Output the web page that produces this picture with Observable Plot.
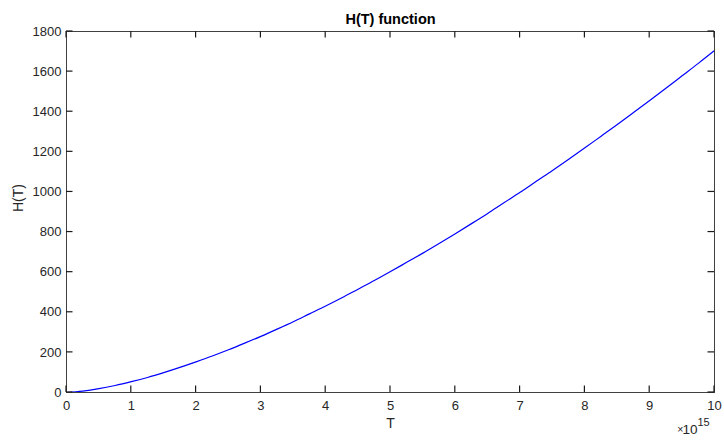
<!DOCTYPE html>
<html>
<head>
<meta charset="utf-8">
<script src="https://cdn.jsdelivr.net/npm/d3@7"></script>
<script src="https://cdn.jsdelivr.net/npm/@observablehq/plot@0.6"></script>
<style>
  html, body { margin: 0; padding: 0; background: #fff; }
  svg { display: block; }
</style>
</head>
<body>
<div id="chart"></div>
<script>
// Data (T axis shown ×10^15)
const tValues = [0, 0.25e15, 0.5e15, 0.75e15, 1e15, 1.25e15, 1.5e15, 1.75e15, 2e15, 2.25e15, 2.5e15,
                 2.75e15, 3e15, 3.25e15, 3.5e15, 3.75e15, 4e15, 4.25e15, 4.5e15, 4.75e15, 5e15,
                 5.25e15, 5.5e15, 5.75e15, 6e15, 6.25e15, 6.5e15, 6.75e15, 7e15, 7.25e15, 7.5e15,
                 7.75e15, 8e15, 8.25e15, 8.5e15, 8.75e15, 9e15, 9.25e15, 9.5e15, 9.75e15, 10e15];
const hValues = [0, 7, 19, 35, 54, 75, 99, 125, 153, 182, 213,
                 246, 280, 316, 353, 392, 431, 472, 515, 558, 603,
                 649, 695, 743, 792, 842, 893, 946, 998, 1053, 1107,
                 1163, 1220, 1278, 1336, 1396, 1456, 1517, 1579, 1641, 1705];
const xTicks = [0, 1e15, 2e15, 3e15, 4e15, 5e15, 6e15, 7e15, 8e15, 9e15, 10e15];
const yTicks = [0, 200, 400, 600, 800, 1000, 1200, 1400, 1600, 1800];
const titleText = "H(T) function";
const xLabel = "T";
const yLabel = "H(T)";

const data = tValues.map((t, i) => ({T: t, H: hValues[i]}));

const W = 724, H = 441;
const mL = 66, mR = 10, mT = 31, mB = 49;
const xDomain = [0, 10e15], yDomain = [0, 1800];
const tickPx = 6.5;
const axisColor = "#404040";
const tickColor = "#1a1a1a";
const font = "Liberation Sans, Arial, Helvetica, sans-serif";

const chart = Plot.plot({
  width: W,
  height: H,
  marginLeft: mL,
  marginRight: mR,
  marginTop: mT,
  marginBottom: mB,
  style: {fontFamily: font, fontSize: "13px", color: "#262626", background: "#fff"},
  x: {domain: xDomain},
  y: {domain: yDomain},
  marks: [
    Plot.lineY(data, {x: "T", y: "H", stroke: "#0000ff", strokeWidth: 1.2, curve: "monotone-x"}),
    Plot.frame({stroke: axisColor, strokeWidth: 1}),
    Plot.axisX({ticks: xTicks, tickSize: 0, tickPadding: 8, label: null, tickFormat: d => String(d / 1e15), fill: "#262626"}),
    Plot.axisY({ticks: yTicks, tickSize: 0, tickPadding: 5, label: null, tickFormat: d => String(d), fill: "#262626"}),
    Plot.text([titleText], {frameAnchor: "top", dy: -12, lineAnchor: "middle", fontWeight: "bold", fontSize: 14.5, fill: "#000"}),
    Plot.text([xLabel], {frameAnchor: "bottom", dy: 31, lineAnchor: "middle", fontSize: 14, fill: "#262626"}),
    Plot.text([yLabel], {frameAnchor: "left", dx: -48, rotate: -90, lineAnchor: "middle", fontSize: 14, fill: "#262626"}),
    Plot.text(["×"], {frameAnchor: "bottom-right", dx: -31, dy: 40, textAnchor: "end", lineAnchor: "bottom", fontSize: 10.5, fill: "#262626"}),
    Plot.text(["10"], {frameAnchor: "bottom-right", dx: -17, dy: 41, textAnchor: "end", lineAnchor: "bottom", fontSize: 13.5, fill: "#262626"}),
    Plot.text(["15"], {frameAnchor: "bottom-right", dx: -17, dy: 33, textAnchor: "start", lineAnchor: "bottom", fontSize: 11, fill: "#262626"})
  ]
});
document.getElementById("chart").appendChild(chart);

// Inward (MATLAB-style) ticks on all four sides, positioned via Plot's own scales
const sx = chart.scale("x"), sy = chart.scale("y");
const x0 = sx.apply(xDomain[0]), x1 = sx.apply(xDomain[1]);
const y0 = sy.apply(yDomain[0]), y1 = sy.apply(yDomain[1]);
const svgNS = "http://www.w3.org/2000/svg";
const g = document.createElementNS(svgNS, "g");
g.setAttribute("stroke", tickColor);
g.setAttribute("stroke-width", "1.2");
g.setAttribute("fill", "none");
function addLine(ax, ay, bx, by) {
  const l = document.createElementNS(svgNS, "line");
  l.setAttribute("x1", ax); l.setAttribute("y1", ay);
  l.setAttribute("x2", bx); l.setAttribute("y2", by);
  g.appendChild(l);
}
for (const t of xTicks) {
  const px = sx.apply(t);
  addLine(px, y0, px, y0 - tickPx);
  addLine(px, y1, px, y1 + tickPx);
}
for (const t of yTicks) {
  const py = sy.apply(t);
  addLine(x0, py, x0 + tickPx, py);
  addLine(x1, py, x1 - tickPx, py);
}
chart.appendChild(g);
</script>
</body>
</html>
